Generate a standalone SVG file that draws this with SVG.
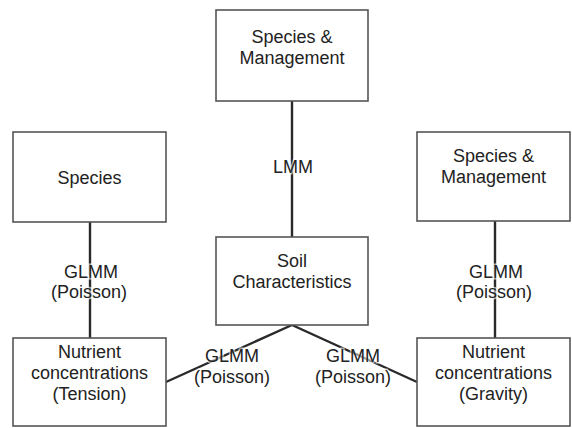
<svg xmlns="http://www.w3.org/2000/svg" width="572" height="428" viewBox="0 0 572 428">
<style>
.box{fill:#fff;stroke:#555;stroke-width:1.6}
.t{font-family:"Liberation Sans",Arial,sans-serif;font-size:18px;fill:#222;text-anchor:middle}
.lbl{stroke:#fff;stroke-opacity:0.6;stroke-width:3;paint-order:stroke}
.c{fill:none;stroke:#2a2a2a;stroke-width:2.4}
</style>
<rect width="572" height="428" fill="#fff"/>
<g id="connectors">
<line class="c" x1="292" y1="101" x2="292" y2="237"/>
<line class="c" x1="90" y1="222" x2="90" y2="338"/>
<line class="c" x1="495" y1="221" x2="495" y2="338"/>
<polyline class="c" points="166,382 292,325 417,382"/>
<text class="t lbl" x="293" y="173">LMM</text>
<text class="t lbl" x="91" y="278">GLMM</text>
<text class="t lbl" x="89" y="298">(Poisson)</text>
<text class="t lbl" x="496" y="278">GLMM</text>
<text class="t lbl" x="494" y="298">(Poisson)</text>
<text class="t lbl" x="232" y="362">GLMM</text>
<text class="t lbl" x="232" y="383">(Poisson)</text>
<text class="t lbl" x="353" y="362">GLMM</text>
<text class="t lbl" x="353" y="383">(Poisson)</text>
</g>
<g id="top">
<rect class="box" x="216" y="10" width="152" height="91"/>
<text class="t" x="292" y="43">Species &amp;</text>
<text class="t" x="292" y="64">Management</text>
</g>
<g id="species">
<rect class="box" x="13" y="132" width="153" height="90"/>
<text class="t" x="89.5" y="184">Species</text>
</g>
<g id="species-management">
<rect class="box" x="417" y="132" width="153" height="89"/>
<text class="t" x="493.5" y="162">Species &amp;</text>
<text class="t" x="493.5" y="183">Management</text>
</g>
<g id="soil">
<rect class="box" x="216" y="237" width="152" height="88"/>
<text class="t" x="292" y="267">Soil</text>
<text class="t" x="292" y="288">Characteristics</text>
</g>
<g id="tension">
<rect class="box" x="13" y="338" width="153" height="88"/>
<text class="t" x="89.5" y="358">Nutrient</text>
<text class="t" x="89.5" y="379">concentrations</text>
<text class="t" x="89.5" y="400">(Tension)</text>
</g>
<g id="gravity">
<rect class="box" x="417" y="338" width="153" height="88"/>
<text class="t" x="493.5" y="358">Nutrient</text>
<text class="t" x="493.5" y="379">concentrations</text>
<text class="t" x="493.5" y="400">(Gravity)</text>
</g>
</svg>
